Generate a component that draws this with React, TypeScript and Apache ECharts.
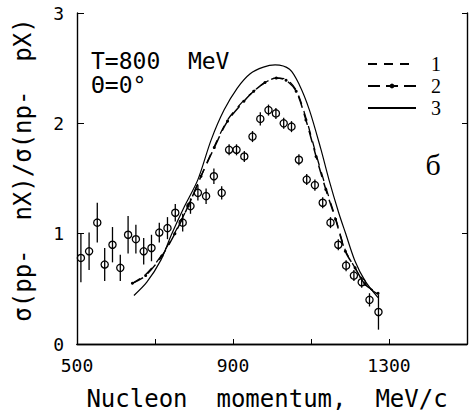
import React, { useEffect, useRef } from "react";
import * as echarts from "echarts";

const momentum = [510, 531, 552, 571, 591, 611, 631, 651, 671, 691, 711, 732, 752, 771, 791, 810, 831, 851, 871, 890, 909, 929, 950, 970, 991, 1010, 1030, 1050, 1069, 1089, 1110, 1130, 1150, 1170, 1190, 1210, 1230, 1250, 1273];
const ratio = [0.78, 0.84, 1.10, 0.72, 0.90, 0.69, 0.99, 0.95, 0.84, 0.87, 1.01, 1.05, 1.19, 1.10, 1.25, 1.37, 1.34, 1.52, 1.37, 1.76, 1.76, 1.70, 1.88, 2.04, 2.12, 2.09, 2.00, 1.97, 1.67, 1.49, 1.44, 1.28, 1.10, 0.90, 0.71, 0.62, 0.56, 0.40, 0.29];
const ratioErr = [0.22, 0.17, 0.18, 0.15, 0.16, 0.12, 0.17, 0.13, 0.12, 0.12, 0.09, 0.10, 0.08, 0.08, 0.07, 0.07, 0.07, 0.07, 0.06, 0.05, 0.05, 0.05, 0.05, 0.06, 0.05, 0.05, 0.05, 0.05, 0.05, 0.05, 0.05, 0.05, 0.05, 0.05, 0.05, 0.05, 0.05, 0.06, 0.16];

const curve1X = [642, 676, 718, 751, 785, 818, 852, 886, 928, 953, 982, 1011, 1036, 1062, 1087, 1113, 1138, 1163, 1188, 1213, 1239, 1272];
const curve1Y = [0.55, 0.63, 0.81, 1.01, 1.25, 1.52, 1.79, 2.03, 2.21, 2.29, 2.37, 2.41, 2.40, 2.30, 2.05, 1.72, 1.42, 1.14, 0.85, 0.69, 0.54, 0.45];
const curve2X = [642, 676, 718, 751, 785, 818, 852, 886, 928, 953, 982, 1011, 1036, 1062, 1087, 1113, 1138, 1163, 1188, 1213, 1239, 1272];
const curve2Y = [0.55, 0.62, 0.80, 1.00, 1.25, 1.52, 1.78, 2.02, 2.20, 2.29, 2.37, 2.41, 2.39, 2.29, 2.03, 1.70, 1.40, 1.13, 0.84, 0.69, 0.54, 0.46];
const curve3X = [646, 679, 715, 742, 776, 810, 844, 877, 911, 944, 978, 1008, 1045, 1070, 1096, 1125, 1146, 1171, 1188, 1213, 1239, 1272];
const curve3Y = [0.44, 0.56, 0.76, 0.99, 1.25, 1.49, 1.85, 2.12, 2.32, 2.45, 2.51, 2.53, 2.49, 2.35, 2.12, 1.77, 1.49, 1.19, 1.01, 0.75, 0.57, 0.42];

const xTicks = [500, 900, 1300];

const MONO = "DejaVu Sans Mono";
const SERIF = "Liberation Serif";

export default function App() {
  const ref = useRef<HTMLDivElement>(null);
  useEffect(() => {
    if (!ref.current) return;
    const chart = echarts.init(ref.current, null, { renderer: "svg" });
    const zip = (xs: number[], ys: number[]) => xs.map((x, i) => [x, ys[i]]);
    const points = momentum.map((x, i) => [x, ratio[i], ratioErr[i]]);
    const axisLine = { show: true, lineStyle: { color: "#000", width: 1.4 } };
    chart.setOption({
      animation: false,
      backgroundColor: "#fff",
      color: ["#000"],
      grid: { left: 77, top: 13, width: 395, height: 334 },
      legend: {
        orient: "vertical",
        left: 362,
        top: 49,
        itemWidth: 48,
        itemHeight: 6,
        itemGap: 2,
        data: [
          { name: "1", itemStyle: { opacity: 0 } },
          { name: "2", itemStyle: { color: "#000" } },
          { name: "3", itemStyle: { opacity: 0 } },
        ],
        textStyle: { fontFamily: SERIF, fontSize: 20, lineHeight: 18.5, color: "#000", padding: [0, 0, 0, 10] },
      },
      xAxis: [
        {
          type: "value",
          min: 500,
          max: 1500,
          interval: 200,
          position: "bottom",
          axisLine,
          axisTick: { show: true, inside: true, length: 5, lineStyle: { color: "#000", width: 1 } },
          splitLine: { show: false },
          axisLabel: {
            margin: 12,
            fontFamily: MONO,
            fontSize: 18,
            color: "#000",
            formatter: (v: number) => (xTicks.includes(v) ? String(v) : ""),
          },
          name: "Nucleon  momentum,  MeV/c",
          nameLocation: "middle",
          nameGap: 43,
          nameTextStyle: { fontFamily: MONO, fontSize: 24, color: "#000", padding: [0, 10, 0, 0] },
        },
        {
          type: "value",
          min: 500,
          max: 1500,
          interval: 200,
          position: "top",
          axisLine,
          axisTick: { show: false },
          axisLabel: { show: false },
          splitLine: { show: false },
        },
      ],
      yAxis: [
        {
          type: "value",
          min: 0,
          max: 3,
          interval: 1,
          position: "left",
          axisLine,
          axisTick: { show: true, inside: true, length: 7, lineStyle: { color: "#000", width: 1 } },
          splitLine: { show: false },
          axisLabel: { margin: 13, fontFamily: MONO, fontSize: 18, color: "#000" },
        },
        {
          type: "value",
          min: 0,
          max: 3,
          interval: 1,
          position: "right",
          axisLine,
          axisTick: { show: true, inside: true, length: 5, lineStyle: { color: "#000", width: 1 } },
          axisLabel: { show: false },
          splitLine: { show: false },
        },
      ],
      graphic: [
        {
          type: "text",
          x: 23,
          y: 170,
          rotation: Math.PI / 2,
          style: {
            text: "σ(pp-  nX)/σ(np-  pX)",
            fontFamily: MONO,
            fontSize: 24,
            fill: "#000",
            textAlign: "center",
            textVerticalAlign: "middle",
          },
        },
        {
          type: "text",
          x: 91,
          y: 61,
          style: { text: "T=800  MeV", fontFamily: MONO, fontSize: 23, fill: "#000", textVerticalAlign: "middle" },
        },
        {
          type: "text",
          x: 91,
          y: 85,
          style: { text: "Θ=0°", fontFamily: MONO, fontSize: 23, fill: "#000", textVerticalAlign: "middle" },
        },
        {
          type: "text",
          x: 433,
          y: 164,
          style: { text: "б", fontFamily: SERIF, fontSize: 30, fill: "#000", textAlign: "center", textVerticalAlign: "middle" },
        },
      ],
      series: [
        {
          name: "1",
          type: "line",
          data: zip(curve1X, curve1Y),
          smooth: 0.3,
          showSymbol: false,
          symbol: "none",
          itemStyle: { color: "#000" },
          lineStyle: { color: "#000", width: 1.3, type: [9, 7] },
        },
        {
          name: "2",
          type: "line",
          data: zip(curve2X, curve2Y),
          smooth: 0.3,
          showSymbol: true,
          symbol: "circle",
          symbolSize: 3,
          itemStyle: { color: "#000" },
          lineStyle: { color: "#000", width: 1.5, type: [12, 6] },
        },
        {
          name: "3",
          type: "line",
          data: zip(curve3X, curve3Y),
          smooth: 0.3,
          showSymbol: false,
          symbol: "none",
          itemStyle: { color: "#000" },
          lineStyle: { color: "#000", width: 1.2 },
        },
        {
          name: "data",
          type: "custom",
          data: points,
          encode: { x: 0, y: 1 },
          renderItem: (params: any, api: any) => {
            const x = api.value(0);
            const y = api.value(1);
            const e = api.value(2);
            const c = api.coord([x, y]);
            const hi = api.coord([x, y + e]);
            const lo = api.coord([x, y - e]);
            return {
              type: "group",
              children: [
                {
                  type: "line",
                  shape: { x1: c[0], y1: hi[1], x2: c[0], y2: lo[1] },
                  style: { stroke: "#000", lineWidth: 1.3 },
                },
                {
                  type: "circle",
                  shape: { cx: c[0], cy: c[1], r: 3.6 },
                  style: { fill: "rgba(0,0,0,0)", stroke: "#000", lineWidth: 1.3 },
                },
              ],
            };
          },
        },
      ],
    });
    return () => chart.dispose();
  }, []);
  return (
    <div
      ref={ref}
      style={{ position: "fixed", left: 0, top: 0, width: 470, height: 416, background: "#fff" }}
    />
  );
}
